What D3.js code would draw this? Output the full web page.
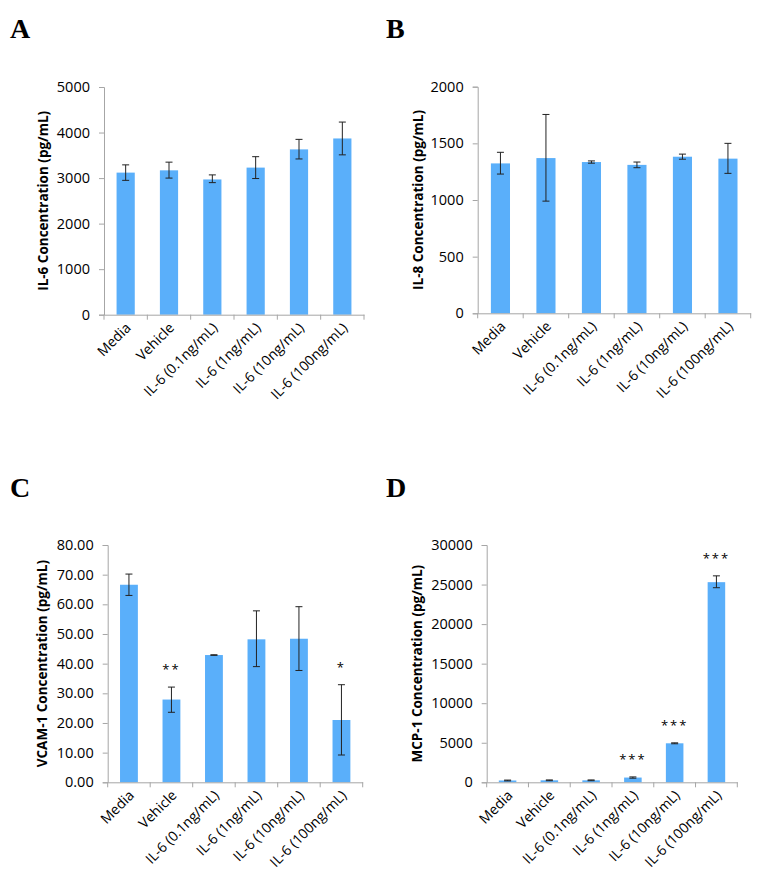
<!DOCTYPE html>
<html><head><meta charset="utf-8">
<script src="https://cdn.jsdelivr.net/npm/d3@7"></script>
<style>body{margin:0;background:#fff}</style>
</head><body>
<svg id="c" width="760" height="894"></svg>
<script>
const categories = ["Media","Vehicle","IL-6 (0.1ng/mL)","IL-6 (1ng/mL)","IL-6 (10ng/mL)","IL-6 (100ng/mL)"];

const il6Values = [3120,3170,2970,3230,3630,3870];
const il6Upper  = [3290,3350,3070,3470,3850,4230];
const il6Lower  = [2950,3000,2900,2990,3420,3510];
const il6Ticks  = [0,1000,2000,3000,4000,5000];

const il8Values = [1323,1370,1335,1310,1382,1365];
const il8Upper  = [1421,1755,1345,1335,1405,1500];
const il8Lower  = [1229,990,1325,1285,1360,1235];
const il8Ticks  = [0,500,1000,1500,2000];

const vcamValues = [66.6,27.9,42.9,48.2,48.4,21.0];
const vcamUpper  = [70.2,32.1,43.0,57.8,59.2,32.9];
const vcamLower  = [63.0,23.6,42.8,39.0,37.7,9.2];
const vcamTicks  = [0,10,20,30,40,50,60,70,80];
const vcamStars  = ["","**","","","","*"];

const mcpValues = [230,250,250,600,4930,25300];
const mcpUpper  = [280,300,300,680,4990,26100];
const mcpLower  = [180,200,200,520,4870,24600];
const mcpTicks  = [0,5000,10000,15000,20000,25000,30000];
const mcpStars  = ["","","","***","***","***"];

const panels = [
  {letter:"A", lx:10, ly:38, left:104, right:364, top:87, bottom:314.7, titleX:43,
   title:"IL-6 Concentration (pg/mL)", values:il6Values, upper:il6Upper, lower:il6Lower, ticks:il6Ticks, fmt:d3.format("d"), stars:null},
  {letter:"B", lx:386, ly:38, left:477.7, right:750.7, top:86.7, bottom:313.3, titleX:418,
   title:"IL-8 Concentration (pg/mL)", values:il8Values, upper:il8Upper, lower:il8Lower, ticks:il8Ticks, fmt:d3.format("d"), stars:null},
  {letter:"C", lx:10, ly:497, left:107.7, right:362.7, top:545, bottom:782.3, titleX:42,
   title:"VCAM-1 Concentration (pg/mL)", values:vcamValues, upper:vcamUpper, lower:vcamLower, ticks:vcamTicks, fmt:d3.format(".2f"), stars:vcamStars},
  {letter:"D", lx:386, ly:497, left:486.7, right:737.3, top:545, bottom:782.3, titleX:417,
   title:"MCP-1 Concentration (pg/mL)", values:mcpValues, upper:mcpUpper, lower:mcpLower, ticks:mcpTicks, fmt:d3.format("d"), stars:mcpStars}
];

const svg = d3.select("#c");
const axisColor = "#a6a6a6";
const barColor = "#5aaffa";
const font = "'Open Sans', sans-serif";

panels.forEach(p => {
  const g = svg.append("g");
  g.append("text").attr("x", p.lx).attr("y", p.ly)
    .attr("font-family","'Liberation Serif','Times New Roman',serif")
    .attr("font-weight","bold").attr("font-size",28).attr("fill","#000").text(p.letter);

  const x = d3.scaleBand().domain(categories).range([p.left, p.right]).paddingInner(0.58).paddingOuter(0.29);
  const xb = d3.scaleBand().domain(categories).range([p.left, p.right]);
  const y = d3.scaleLinear().domain([0, d3.max(p.ticks)]).range([p.bottom, p.top]);

  // y axis
  const ya = g.append("g").attr("transform",`translate(${p.left},0)`)
    .call(d3.axisLeft(y).tickValues(p.ticks).tickFormat(p.fmt).tickSize(5).tickPadding(9));
  ya.select(".domain").attr("stroke",axisColor);
  ya.selectAll(".tick line").attr("stroke",axisColor);
  ya.selectAll(".tick text").attr("font-family",font).attr("font-size",14.5).attr("fill","#000");

  // bars
  g.selectAll("rect.bar").data(p.values).join("rect")
    .attr("x",(d,i)=>x(categories[i])).attr("width",x.bandwidth())
    .attr("y",d=>y(d)).attr("height",d=>p.bottom - y(d)).attr("fill",barColor);

  // error bars
  const cx = i => xb(categories[i]) + xb.bandwidth()/2;
  const eg = g.append("g").attr("stroke","#222").attr("stroke-width",1);
  p.values.forEach((v,i)=>{
    const c = cx(i);
    eg.append("line").attr("x1",c).attr("x2",c).attr("y1",y(p.upper[i])).attr("y2",y(p.lower[i]));
    eg.append("line").attr("x1",c-3.5).attr("x2",c+3.5).attr("y1",y(p.upper[i])).attr("y2",y(p.upper[i]));
    eg.append("line").attr("x1",c-3.5).attr("x2",c+3.5).attr("y1",y(p.lower[i])).attr("y2",y(p.lower[i]));
  });

  // stars
  if (p.stars) {
    p.stars.forEach((s,i)=>{
      if(!s) return;
      g.append("text").attr("x",cx(i)).attr("y",y(p.upper[i]) - 13)
        .attr("text-anchor","middle").attr("font-family",font).attr("font-size",13)
        .attr("letter-spacing",2).attr("fill","#000").text(s);
    });
  }

  // x axis
  const xa = g.append("g").attr("transform",`translate(0,${p.bottom})`)
    .call(d3.axisBottom(xb).tickSize(0).tickFormat(""));
  xa.select(".domain").attr("stroke",axisColor);
  const bounds = categories.map(c=>xb(c)).concat([p.right]);
  g.selectAll("line.xt").data(bounds).join("line")
    .attr("x1",d=>d).attr("x2",d=>d).attr("y1",p.bottom).attr("y2",p.bottom+5).attr("stroke",axisColor);

  g.selectAll("text.xl").data(categories).join("text")
    .attr("transform",(d,i)=>`translate(${cx(i)+6},${p.bottom+14}) rotate(-45)`)
    .attr("text-anchor","end").attr("font-family",font).attr("font-size",14).attr("fill","#000")
    .text(d=>d);

  // y title
  g.append("text").attr("transform",`translate(${p.titleX},${(p.top+p.bottom)/2}) rotate(-90)`)
    .attr("text-anchor","middle").attr("dy","0.35em").attr("font-family",font)
    .attr("font-weight","bold").attr("font-size",13.5).attr("fill","#000").text(p.title);
});
</script>
</body></html>
